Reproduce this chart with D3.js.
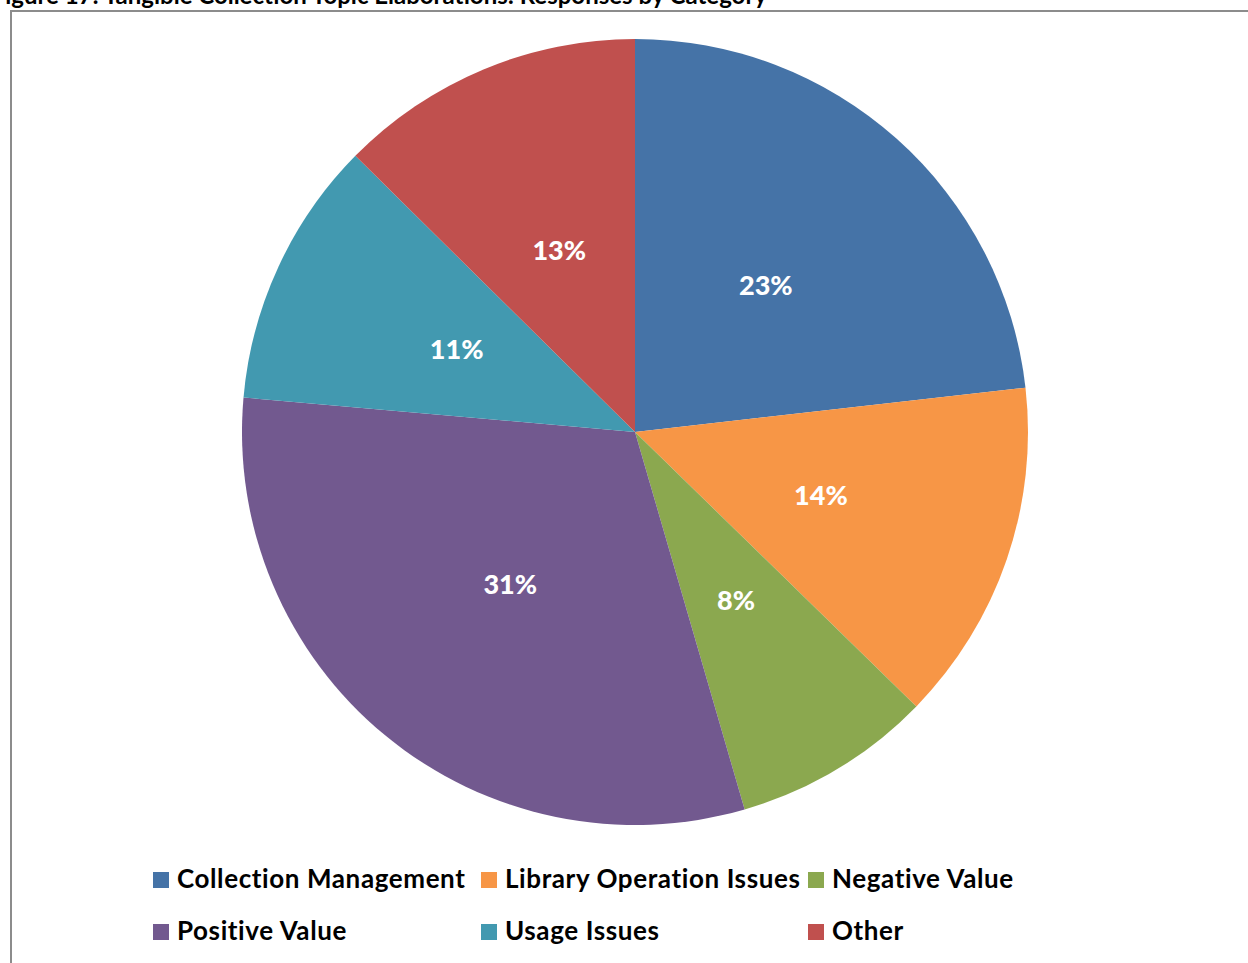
<!DOCTYPE html>
<html>
<head>
<meta charset="utf-8">
<script src="https://cdn.jsdelivr.net/npm/d3@7"></script>
<style>
  html, body { margin: 0; padding: 0; background: #fff; overflow: hidden; }
  svg { display: block; font-family: Lato, "Open Sans", sans-serif; }
</style>
</head>
<body>
<svg width="1248" height="963"></svg>
<script>
// slice data (clockwise from 12 o'clock)
const categories = ["Collection Management", "Library Operation Issues", "Negative Value",
                    "Positive Value", "Usage Issues", "Other"];
const shares = [23.2, 14.1, 8.2, 30.9, 11.0, 12.6];
const colors = ["#4573a7", "#f79646", "#8ba84f", "#72598f", "#4299b0", "#c0504e"];
const labels = ["23%", "14%", "8%", "31%", "11%", "13%"];
const title = "Figure 17: Tangible Collection Topic Elaborations: Responses by Category";

const W = 1248, H = 963;
const cx = 635, cy = 432, radius = 393;

const svg = d3.select('svg');

// title is cut off by the top edge in the reference
svg.append('text')
  .attr('x', 767).attr('y', 4)
  .attr('text-anchor', 'end')
  .attr('font-weight', 'bold')
  .attr('font-size', 24)
  .text(title);

// chart frame (runs past the right and bottom edges)
svg.append('rect')
  .attr('x', 11).attr('y', 11)
  .attr('width', W + 20).attr('height', H + 20)
  .attr('fill', 'none')
  .attr('stroke', '#8c8c8c')
  .attr('stroke-width', 2);

const data = categories.map((c, i) => ({ name: c, value: shares[i], color: colors[i], label: labels[i] }));

const pie = d3.pie().value(d => d.value).sort(null);
const arc = d3.arc().innerRadius(0).outerRadius(radius);

const g = svg.append('g').attr('transform', `translate(${cx},${cy})`);

const arcs = pie(data);

g.selectAll('path.slice')
  .data(arcs)
  .join('path')
  .attr('class', 'slice')
  .attr('d', arc)
  .attr('fill', d => d.data.color);

g.selectAll('text.lbl')
  .data(arcs)
  .join('text')
  .attr('class', 'lbl')
  .attr('transform', d => `translate(${arc.centroid(d)})`)
  .attr('text-anchor', 'middle')
  .attr('dy', '0.36em')
  .attr('fill', '#fff')
  .attr('font-weight', 900)
  .attr('font-size', 27)
  .text(d => d.data.label);

// legend: 3 columns x 2 rows
const colX = [153, 481, 808];
const rowY = [872, 924];
const legend = svg.append('g');
const item = legend.selectAll('g.item')
  .data(data)
  .join('g')
  .attr('class', 'item')
  .attr('transform', (d, i) => `translate(${colX[i % 3]},${rowY[Math.floor(i / 3)]})`);

item.append('rect')
  .attr('width', 16).attr('height', 16)
  .attr('fill', d => d.color);

item.append('text')
  .attr('x', 24).attr('y', 16)
  .attr('font-weight', 'bold')
  .attr('font-size', 26)
  .attr('letter-spacing', 0.6)
  .attr('fill', '#000')
  .text(d => d.name);
</script>
</body>
</html>
